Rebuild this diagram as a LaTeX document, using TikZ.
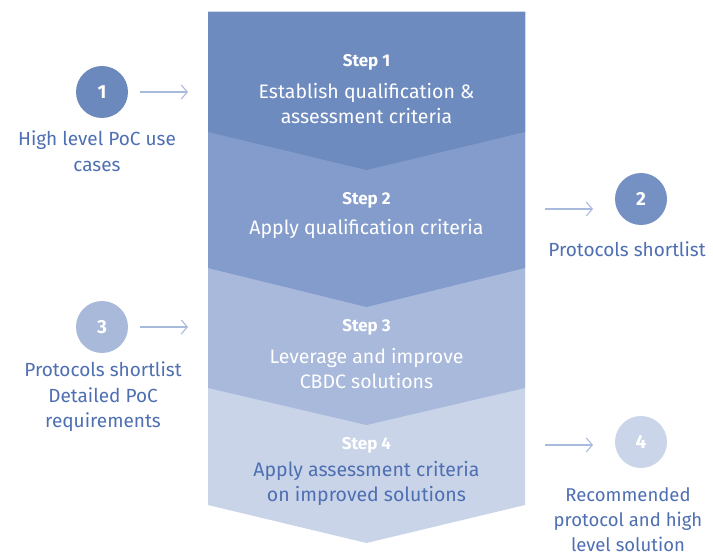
\documentclass[tikz,border=0pt]{standalone}
\usepackage{fontspec}
\setmainfont{Fira Sans}
\usetikzlibrary{arrows.meta}
\begin{document}
\begin{tikzpicture}[x=1pt,y=-1pt,
  lbl/.style={text=labelblue,font=\fontsize{19}{25.5}\selectfont,align=center,inner sep=0pt},
  steptitle/.style={text=white,font=\fontsize{17}{18}\selectfont\bfseries,inner sep=0pt},
  stepdesc/.style={text=white,font=\fontsize{19.5}{25}\selectfont,align=center,inner sep=0pt},
  numcirc/.style={circle,minimum size=52pt,inner sep=0pt,text=white,font=\fontsize{19}{20}\selectfont\bfseries},
  arr/.style={draw=arrowblue,line width=1.1pt,-{Straight Barb[length=6pt,width=14pt,line width=1.1pt]}}
]
\definecolor{labelblue}{HTML}{4E6FB2}
\definecolor{arrowblue}{HTML}{A9BBDD}
\definecolor{sone}{HTML}{6E8BC0}
\definecolor{stwo}{HTML}{849CCB}
\definecolor{sthree}{HTML}{A8B9DB}
\definecolor{sfour}{HTML}{C9D4E9}
\definecolor{cone}{HTML}{6C89BE}
\definecolor{ctwo}{HTML}{7591C4}
\definecolor{cthree}{HTML}{A8B9DA}
\definecolor{cfour}{HTML}{CAD5EA}
\useasboundingbox[fill=white] (0,0) rectangle (713,556);
% chevron column
\fill[sfour] (208,12) -- (525,12) -- (525,505) -- (366.5,543) -- (208,505) -- cycle;
\fill[sthree] (208,12) -- (525,12) -- (525,388) -- (366.5,425) -- (208,388) -- cycle;
\fill[stwo] (208,12) -- (525,12) -- (525,268) -- (366.5,307) -- (208,268) -- cycle;
\fill[sone] (208,12) -- (525,12) -- (525,132) -- (366.5,170) -- (208,132) -- cycle;
% step texts
\node[steptitle] (t1) at (366.5,62) {Step 1};
\node[stepdesc] (d1) at (366.5,104) {Establish qualification \&\\assessment criteria};
\node[steptitle] (t2) at (366.5,200) {Step 2};
\node[stepdesc] (d2) at (366.5,229) {Apply qualification criteria};
\node[steptitle] (t3) at (366.5,327) {Step 3};
\node[stepdesc] (d3) at (366.5,369) {Leverage and improve\\CBDC solutions};
\node[steptitle] (t4) at (366.5,445) {Step 4};
\node[stepdesc,text=labelblue] (d4) at (366.5,483) {Apply assessment criteria\\on improved solutions};
% circles
\node[numcirc,fill=cone] (c1) at (102,92) {1};
\node[numcirc,fill=ctwo] (c2) at (641,199) {2};
\node[numcirc,fill=cthree] (c3) at (102,327) {3};
\node[numcirc,fill=cfour] (c4) at (641,442) {4};
% labels
\node[lbl] (l1) at (97,151) {High level PoC use\\cases};
\node[lbl] (l2) at (627,249) {Protocols shortlist};
\node[lbl] (l3) at (103,397) {Protocols shortlist\\Detailed PoC\\requirements};
\node[lbl,font=\fontsize{18.5}{25}\selectfont] (l4) at (628,520) {Recommended\\protocol and high\\level solution};
% arrows
\coordinate (a1s) at (140,92); \coordinate (a1e) at (188,92);
\coordinate (a2s) at (545,209); \coordinate (a2e) at (593,209);
\coordinate (a3s) at (140,327); \coordinate (a3e) at (188,327);
\coordinate (a4s) at (545,445); \coordinate (a4e) at (593,445);
\draw[arr] (a1s) -- (a1e);
\draw[arr] (a2s) -- (a2e);
\draw[arr] (a3s) -- (a3e);
\draw[arr] (a4s) -- (a4e);
\end{tikzpicture}
\end{document}
